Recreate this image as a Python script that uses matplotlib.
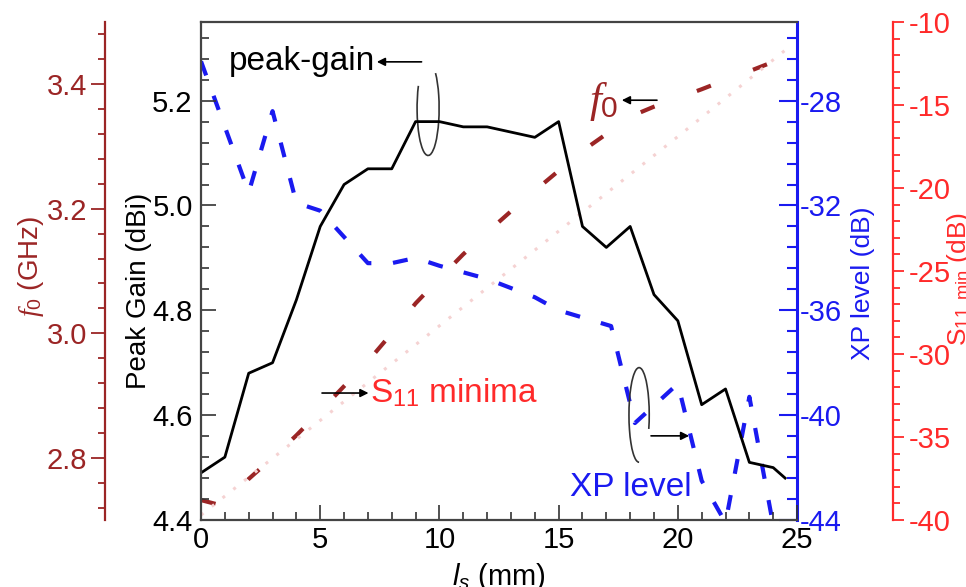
import numpy as np
import matplotlib.pyplot as plt
from matplotlib.patches import Arc
from matplotlib.ticker import MultipleLocator

plt.rcParams['font.family'] = ['Liberation Sans', 'DejaVu Sans']
plt.rcParams['font.size'] = 21
plt.rcParams['axes.unicode_minus'] = False
plt.rcParams['mathtext.fontset'] = 'custom'
plt.rcParams['mathtext.rm'] = 'Liberation Sans'
plt.rcParams['mathtext.it'] = 'Liberation Serif:italic'
plt.rcParams['mathtext.sf'] = 'Liberation Sans:italic'

# peak gain (dBi) vs l_s (mm)
ls_gain = [0, 1, 2, 3, 4, 5, 6, 7, 8, 9, 10, 11, 12, 14, 15, 16, 17, 18, 19, 20, 21, 22, 23, 24, 24.5]
gain = [4.49, 4.52, 4.68, 4.70, 4.82, 4.96, 5.04, 5.07, 5.07, 5.16, 5.16, 5.15, 5.15, 5.13, 5.16,
        4.96, 4.92, 4.96, 4.83, 4.78, 4.62, 4.65, 4.51, 4.50, 4.48]

# cross-pol level (dB)
ls_xp = [0, 2, 3, 4, 5, 6, 7, 8, 9, 10, 12, 14, 15, 17.2, 18.2, 20, 21, 22, 23, 24]
xp = [-26.5, -31.5, -28.4, -31.9, -32.2, -33.2, -34.2, -34.2, -34.0, -34.3, -34.8, -35.5, -36.0,
      -36.6, -40.3, -38.8, -42.5, -44.1, -39.3, -44.2]

# resonance frequency f0 (GHz)
ls_f0 = [0, 1, 2, 3, 4, 5, 6, 7, 8, 9, 10, 11, 12, 13, 14, 15, 16, 17, 18, 19, 20, 21, 22, 23, 24, 24.5]
f0 = [2.732, 2.722, 2.766, 2.800, 2.836, 2.875, 2.915, 2.955, 3.000, 3.048, 3.088, 3.127, 3.162,
      3.196, 3.229, 3.261, 3.293, 3.320, 3.348, 3.364, 3.378, 3.392, 3.407, 3.421, 3.436, 3.443]

# S11 minima (dB)
ls_s11 = [0, 5, 10, 15, 20, 24.5]
s11 = [-39.7, -34.0, -28.3, -22.6, -16.9, -11.7]

c_blue = '#1a1af0'
c_f0 = '#9b2525'
c_s11 = '#ff2a2a'
c_s11_line = '#f5d2d2'

fig = plt.figure(figsize=(9.66, 5.87), dpi=100)
ax = fig.add_axes([0.2081, 0.1141, 0.6170, 0.8484])
ax_xp = ax.twinx()
ax_f0 = ax.twinx()
ax_s11 = ax.twinx()

# S11 minima and f0 curves
ax_s11.plot(ls_s11, s11, color=c_s11_line, lw=2.2, ls=(0, (1, 3.5)))
ax_f0.plot(ls_f0, f0, color=c_f0, lw=3, ls=(0, (3.6, 10.8)))
ax_xp.plot(ls_xp, xp, color=c_blue, lw=3, ls=(0, (3.6, 5.2)))
ax.plot(ls_gain, gain, color='k', lw=2)

# main axis
ax.set_xlim(0, 25)
ax.set_ylim(4.4, 5.35)
ax.set_zorder(ax_s11.get_zorder() + 1)
ax.patch.set_visible(False)
ax.xaxis.set_major_locator(MultipleLocator(5))
ax.xaxis.set_minor_locator(MultipleLocator(1))
ax.yaxis.set_minor_locator(MultipleLocator(0.04))
ax.set_yticks([4.4, 4.6, 4.8, 5.0, 5.2])
ax.set_yticklabels(['4.4', '4.6', '4.8', '5.0', '5.2'])
ax.tick_params(axis='both', which='major', direction='in', length=11, width=1.2, color='#333333')
ax.tick_params(axis='both', which='minor', direction='in', length=6, width=1.2, color='#333333')
ax.tick_params(axis='x', pad=4)
ax.tick_params(axis='y', pad=6)
for s in ['left', 'top', 'bottom']:
    ax.spines[s].set_linewidth(1.6)
    ax.spines[s].set_color('#444444')
ax.spines['right'].set_visible(False)
ax.set_ylabel('Peak Gain (dBi)', fontsize=20)
ax.yaxis.set_label_coords(-0.083, 0.46)
ax.set_xlabel(r'$\mathsf{l}_{\mathsf{s}}$ (mm)', fontsize=21)
ax.xaxis.set_label_coords(0.5, -0.082)

# XP axis
ax_xp.set_ylim(-44, -25)
ax_xp.set_yticks([-44, -40, -36, -32, -28])
ax_xp.yaxis.set_minor_locator(MultipleLocator(0.8))
ax_xp.tick_params(axis='y', which='major', direction='in', length=13, width=1.5, color=c_blue,
                  labelcolor=c_blue, pad=2)
ax_xp.tick_params(axis='y', which='minor', direction='in', length=7, width=1.5, color=c_blue)
ax_xp.spines['right'].set_color(c_blue)
ax_xp.spines['right'].set_linewidth(2.2)
for s in ['left', 'top', 'bottom']:
    ax_xp.spines[s].set_visible(False)
ax_xp.set_ylabel('XP level (dB)', color=c_blue, fontsize=19)
ax_xp.yaxis.set_label_coords(1.09, 0.476)

# f0 axis (far left)
ax_f0.set_ylim(2.7, 3.5)
ax_f0.yaxis.set_ticks_position('left')
ax_f0.yaxis.set_label_position('left')
ax_f0.spines['left'].set_position(('axes', -0.161))
ax_f0.spines['left'].set_visible(True)
ax_f0.spines['left'].set_color(c_f0)
ax_f0.spines['left'].set_linewidth(1.6)
for s in ['right', 'top', 'bottom']:
    ax_f0.spines[s].set_visible(False)
ax_f0.set_yticks([2.8, 3.0, 3.2, 3.4])
ax_f0.set_yticklabels(['2.8', '3.0', '3.2', '3.4'])
ax_f0.yaxis.set_minor_locator(MultipleLocator(0.04))
ax_f0.tick_params(axis='y', which='major', direction='out', length=10, width=1.3, color=c_f0,
                  labelcolor=c_f0, pad=3)
ax_f0.tick_params(axis='y', which='minor', direction='out', length=5, width=1.3, color=c_f0)
ax_f0.set_ylabel(r'$f_0$ (GHz)', color=c_f0, fontsize=20)
ax_f0.yaxis.set_label_coords(-0.26, 0.51)

# S11 axis (far right)
ax_s11.set_ylim(-40, -10)
ax_s11.spines['right'].set_position(('axes', 1.161))
ax_s11.spines['right'].set_color(c_s11)
ax_s11.spines['right'].set_linewidth(1.6)
for s in ['left', 'top', 'bottom']:
    ax_s11.spines[s].set_visible(False)
ax_s11.yaxis.set_major_locator(MultipleLocator(5))
ax_s11.yaxis.set_minor_locator(MultipleLocator(1))
ax_s11.tick_params(axis='y', which='major', direction='out', length=8, width=1.3, color=c_s11,
                   labelcolor=c_s11, pad=3)
ax_s11.tick_params(axis='y', which='minor', direction='out', length=5, width=1.3, color=c_s11)
ax_s11.set_ylabel(r'S$_{11,\mathrm{min}}$ (dB)', color=c_s11, fontsize=19)
ax_s11.yaxis.set_label_coords(1.248, 0.484)

# annotations
arw = dict(arrowstyle='-|>', color='k', lw=1.2, mutation_scale=12, shrinkA=0, shrinkB=0)
ax.text(0.047, 0.92, 'peak-gain', transform=ax.transAxes, ha='left', va='center', fontsize=24)
ax.annotate('', xy=(0.295, 0.92), xytext=(0.37, 0.92), xycoords='axes fraction',
            textcoords='axes fraction', arrowprops=arw)
ax.add_patch(Arc((0.381, 0.827), 0.037, 0.19, theta1=110, theta2=440, transform=ax.transAxes,
                 color='#333333', lw=1.2))

ax.text(0.675, 0.84, r'$f_0$', transform=ax.transAxes, ha='center', va='center',
        fontsize=31, color=c_f0)
ax.annotate('', xy=(0.706, 0.843), xytext=(0.765, 0.843), xycoords='axes fraction',
            textcoords='axes fraction', arrowprops=arw)

ax.text(0.284, 0.255, r'S$_{11}$ minima', transform=ax.transAxes, ha='left', va='center',
        fontsize=24, color=c_s11)
ax.annotate('', xy=(0.281, 0.255), xytext=(0.203, 0.255), xycoords='axes fraction',
            textcoords='axes fraction', arrowprops=arw)

ax.text(0.619, 0.066, 'XP level', transform=ax.transAxes, ha='left', va='center',
        fontsize=24, color=c_blue)
ax.add_patch(Arc((0.735, 0.211), 0.034, 0.19, theta1=-60, theta2=270, transform=ax.transAxes,
                 color='#333333', lw=1.2))
ax.annotate('', xy=(0.819, 0.169), xytext=(0.755, 0.169), xycoords='axes fraction',
            textcoords='axes fraction', arrowprops=arw)

fig.savefig('out.png', dpi=100)
